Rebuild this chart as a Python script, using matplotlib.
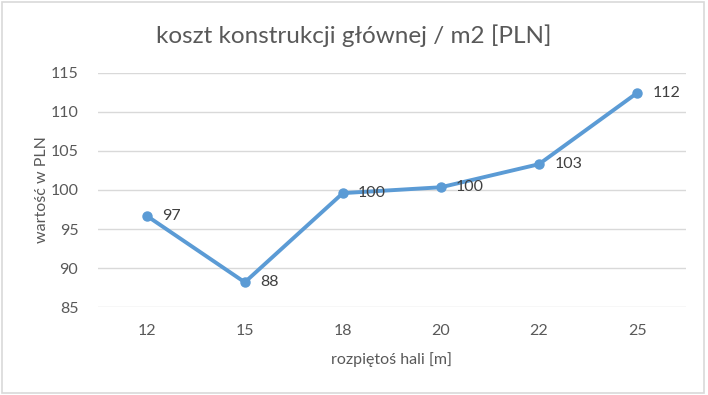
import matplotlib.pyplot as plt
from matplotlib.patches import Rectangle

plt.rcParams['font.family'] = ['Lato', 'DejaVu Sans']

spans = ['12', '15', '18', '20', '22', '25']
costs = [96.7, 88.2, 99.6, 100.35, 103.3, 112.4]
labels = ['97', '88', '100', '100', '103', '112']
yticks = [85, 90, 95, 100, 105, 110, 115]

text_col = '#595959'
line_col = '#5B9BD5'

fig = plt.figure(figsize=(7.08, 3.95), dpi=100)
ax = fig.add_axes([0.138, 0.222, 0.831, 0.594])

x = list(range(len(spans)))
ax.plot(x, costs, color=line_col, lw=2.8, marker='o', ms=6.5, zorder=3)
for i, (v, lab) in enumerate(zip(costs, labels)):
    ax.annotate(lab, (i, v), xytext=(11, 0), textcoords='offset points',
                va='center', ha='left', fontsize=11.5, color='#404040')

ax.set_xlim(-0.5, len(spans) - 0.5)
ax.set_ylim(85, 115)
ax.set_xticks(x)
ax.set_xticklabels(spans)
ax.set_yticks(yticks)
ax.grid(axis='y', color='#D9D9D9', lw=1)
ax.set_axisbelow(True)
for s in ax.spines.values():
    s.set_visible(False)
ax.tick_params(length=0, labelsize=11.5, labelcolor=text_col, pad=12)
ax.tick_params(axis='y', pad=14)

ax.set_xlabel('rozpiętoś hali [m]', fontsize=11.5, color=text_col, labelpad=10)
ax.set_ylabel('wartość w PLN', fontsize=11.5, color=text_col, labelpad=1)
fig.text(0.5, 0.91, 'koszt konstrukcji głównej / m2 [PLN]', ha='center', va='center',
         fontsize=17.5, color=text_col)

fig.patches.append(Rectangle((0.003, 0.005), 0.991, 0.99, transform=fig.transFigure,
                             fill=False, ec='#D9D9D9', lw=1.2))

fig.savefig('out.png', dpi=100, facecolor='white')
